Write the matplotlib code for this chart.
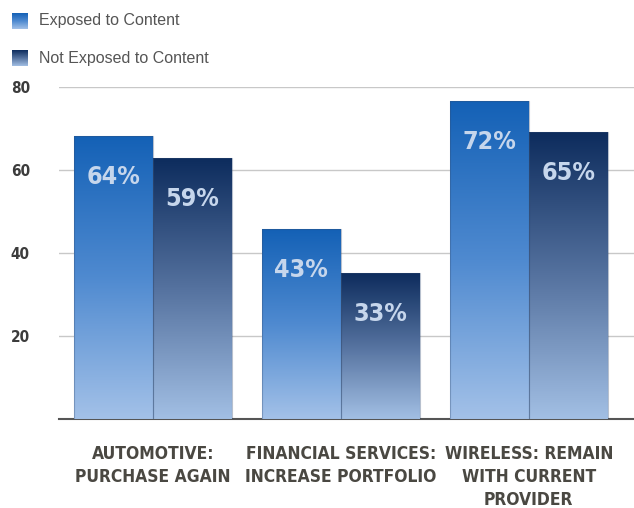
import numpy as np
import matplotlib
matplotlib.use("Agg")
import matplotlib.pyplot as plt
from matplotlib.colors import LinearSegmentedColormap
from matplotlib.patches import Rectangle

# survey results, percent of respondents
categories = ["AUTOMOTIVE:\nPURCHASE AGAIN",
              "FINANCIAL SERVICES:\nINCREASE PORTFOLIO",
              "WIRELESS: REMAIN\nWITH CURRENT\nPROVIDER"]
exposed = [64, 43, 72]
not_exposed = [59, 33, 65]
series_names = ["Exposed to Content", "Not Exposed to Content"]
tick_values = [20, 40, 60, 80]

# the value axis of the original chart runs slightly stretched
AXIS_STRETCH = 1.064

COND = dict(family="DejaVu Sans", stretch="condensed", weight="bold")
exp_cmap = LinearSegmentedColormap.from_list("exp", ["#a3c1e8", "#4f8ad0", "#1461b6"])
not_cmap = LinearSegmentedColormap.from_list("notexp", ["#a2bfe4", "#55729f", "#0d2c5d"])

fig = plt.figure(figsize=(6.34, 5.08), dpi=100)
ax = fig.add_axes([0.093, 0.176, 0.907, 0.653])

width = 0.42
x = np.arange(len(categories))
grad = np.linspace(0, 1, 256).reshape(-1, 1)


def gradient_bars(xs, vals, cmap):
    bars = ax.bar(xs, vals, width, color="none", edgecolor="none", zorder=3)
    for b in bars:
        x0, y0 = b.get_x(), b.get_y()
        w, h = b.get_width(), b.get_height()
        img = ax.imshow(grad, cmap=cmap, origin="lower", aspect="auto",
                        extent=[x0, x0 + w, y0, y0 + h], zorder=3)
        img.set_clip_path(b)
        # thin shadow line round each bar
        ax.add_patch(Rectangle((x0, y0), w, h, fill=False,
                               edgecolor=(0.2, 0.3, 0.45, 0.35), lw=0.8, zorder=4))
    return bars


b1 = gradient_bars(x - width / 2, exposed, exp_cmap)
b2 = gradient_bars(x + width / 2, not_exposed, not_cmap)

for bars, vals in [(b1, exposed), (b2, not_exposed)]:
    for b, v in zip(bars, vals):
        ax.annotate(f"{v}%", (b.get_x() + b.get_width() / 2, v),
                    xytext=(0, -41), textcoords="offset pixels",
                    ha="center", va="center", fontsize=18,
                    color="#c6d6ec", zorder=5, **COND)

ax.set_xlim(-0.5, 2.56)
ax.set_ylim(0, 80 / AXIS_STRETCH)
ax.set_yticks([t / AXIS_STRETCH for t in tick_values])
ax.set_yticklabels([str(t) for t in tick_values], **COND)
ax.set_xticks(x)
ax.set_xticklabels(categories, linespacing=1.35, va="top", **COND)
ax.tick_params(axis="y", length=0, pad=21, labelsize=11, labelcolor="#3c3c3c")
ax.tick_params(axis="x", length=0, pad=19, labelsize=12.5, labelcolor="#4a4842")

ax.yaxis.grid(True, color="#c8c8c8", lw=1)
ax.set_axisbelow(True)
for side in ["top", "right", "left"]:
    ax.spines[side].set_visible(False)
ax.spines["bottom"].set_color("#555555")
ax.spines["bottom"].set_linewidth(1.5)

# legend drawn as squares with labels in the top left corner
for i, (name, cmap) in enumerate(zip(series_names, [exp_cmap, not_cmap])):
    yc = 1 - (21 + 37 * i) / 508
    lax = fig.add_axes([12 / 634, yc - 8 / 508, 16 / 634, 16 / 508])
    lax.imshow(grad, cmap=cmap, origin="lower", aspect="auto")
    lax.axis("off")
    fig.text(39 / 634, yc, name, ha="left", va="center", fontsize=11.5,
             color="#555555", family=["Liberation Sans", "DejaVu Sans"])

fig.savefig("out.png", dpi=100)
